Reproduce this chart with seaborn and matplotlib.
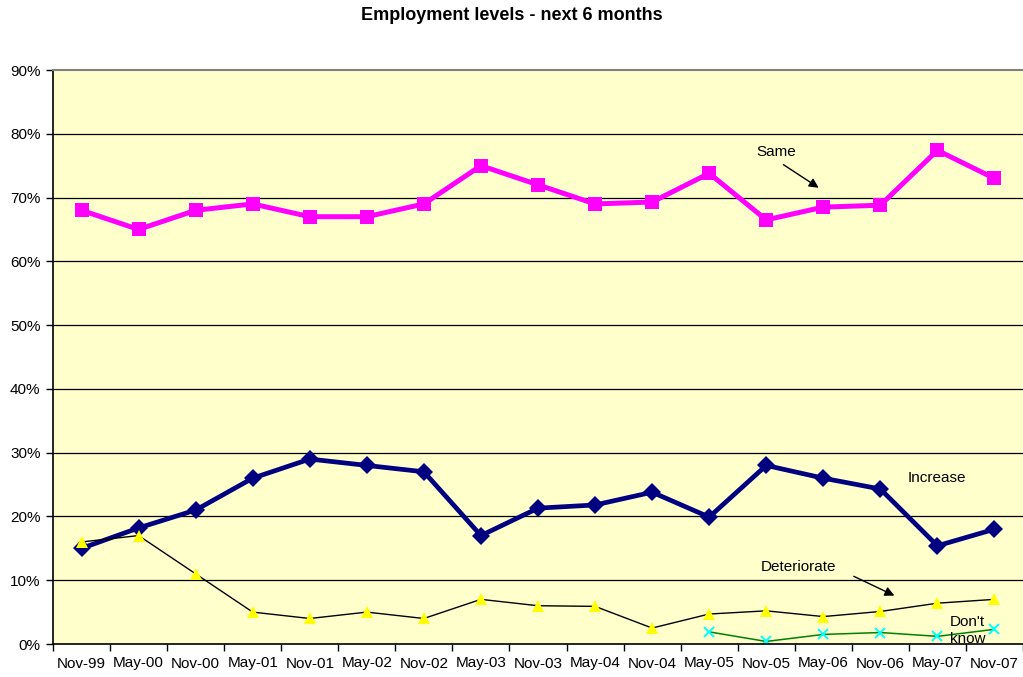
import numpy as np
import pandas as pd
import matplotlib
matplotlib.use("Agg")
import matplotlib.pyplot as plt
import seaborn as sns

# ── Data ───────────────────────────────────────────────
periods = ["Nov-99", "May-00", "Nov-00", "May-01", "Nov-01", "May-02", "Nov-02",
           "May-03", "Nov-03", "May-04", "Nov-04", "May-05", "Nov-05", "May-06",
           "Nov-06", "May-07", "Nov-07"]
same = [68, 65, 68, 69, 67, 67, 69, 75, 72, 69, 69.3, 73.8, 66.5, 68.5, 68.8, 77.4, 73]
increase = [15, 18.2, 21, 26, 29, 28, 27, 17, 21.3, 21.8, 23.8, 19.9, 28, 26, 24.3, 15.4, 18]
deteriorate = [16, 17, 11, 5, 4, 5, 4, 7, 6, 5.9, 2.5, 4.7, 5.2, 4.3, 5.1, 6.4, 7]
dont_know = [np.nan] * 11 + [1.9, 0.4, 1.5, 1.8, 1.2, 2.3]

df = pd.DataFrame({"period": periods, "Same": same, "Increase": increase,
                   "Deteriorate": deteriorate, "Don't know": dont_know})
df["x"] = np.arange(len(df))

sns.set_theme(style="white")
plt.rcParams["font.family"] = ["Liberation Sans", "DejaVu Sans"]
plt.rcParams["text.color"] = "black"
plt.rcParams["xtick.color"] = "black"
plt.rcParams["ytick.color"] = "black"

fig = plt.figure(figsize=(10.23, 6.77), dpi=100)
ax = fig.add_axes([53 / 1023, 1 - 644 / 677, 1 - 53 / 1023, (644 - 70) / 677])
ax.set_facecolor("#FFFFCC")

# gridlines
for v in range(10, 90, 10):
    ax.axhline(v, color="black", lw=0.9, zorder=0)

sns.lineplot(data=df, x="x", y="Same", ax=ax, color="#FF00FF", lw=3.6,
             marker="s", markersize=10.5, markeredgewidth=0)
sns.lineplot(data=df, x="x", y="Increase", ax=ax, color="#000080", lw=3.4,
             marker="D", markersize=9.5, markeredgewidth=0)
sns.lineplot(data=df, x="x", y="Deteriorate", ax=ax, color="black", lw=1,
             marker="^", markersize=8.5, markerfacecolor="#FFFF00",
             markeredgewidth=0)
sns.lineplot(data=df.dropna(), x="x", y="Don't know", ax=ax, color="#008000",
             lw=1.1, marker="x", markersize=7.5, markeredgecolor="#00FFFF",
             markeredgewidth=1.4)

ax.set_xlim(-0.5, len(periods) - 0.5)
ax.set_ylim(0, 90)
ax.set_xticks(df["x"])
ax.set_xticklabels(periods, fontsize=11)
ax.set_xticks(np.arange(-0.5, len(periods), 1), minor=True)
ax.tick_params(axis="x", which="major", length=0, pad=9)
ax.tick_params(axis="x", which="minor", length=5, width=1, color="black",
               bottom=True)
ax.set_yticks(range(0, 91, 10))
ax.set_yticklabels([f"{v}%" for v in range(0, 91, 10)], fontsize=11)
ax.tick_params(axis="y", length=5, width=1, color="black", left=True, pad=4)
ax.set_xlabel("")
ax.set_ylabel("")

for side in ["left", "bottom"]:
    ax.spines[side].set_color("black")
    ax.spines[side].set_linewidth(1.2)
ax.spines["top"].set_color("#808080")
ax.spines["top"].set_linewidth(1.5)
ax.spines["right"].set_visible(False)

# annotations
ax.text(12.17, 77.1, "Same", fontsize=11, ha="center", va="center")
ax.annotate("", xy=(12.96, 71.3), xytext=(12.26, 75.4),
            arrowprops=dict(arrowstyle="-|>", color="black", lw=1,
                            mutation_scale=14))
ax.text(14.99, 26.0, "Increase", fontsize=11, ha="center", va="center")
ax.text(12.57, 12.1, "Deteriorate", fontsize=11, ha="center", va="center")
ax.annotate("", xy=(14.29, 7.4), xytext=(13.49, 10.8),
            arrowprops=dict(arrowstyle="-|>", color="black", lw=1,
                            mutation_scale=14))
ax.text(15.22, 4.5, "Don't\nknow", fontsize=11, ha="left", va="top",
        linespacing=1.25, clip_on=True)

fig.suptitle("Employment levels - next 6 months", fontsize=13,
             fontweight="bold", y=1 - 16 / 677, va="center")

fig.savefig("out.png", dpi=100)
